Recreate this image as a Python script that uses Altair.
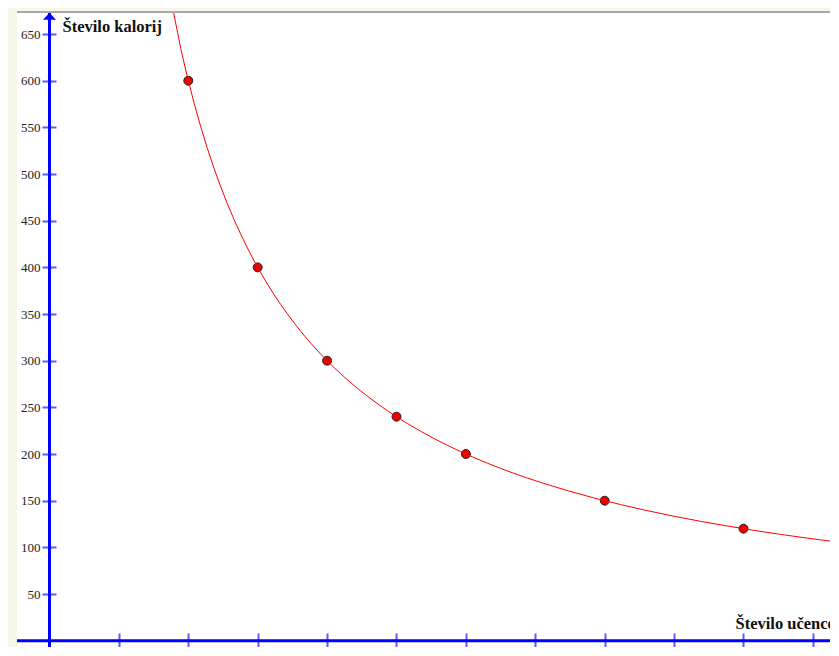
import altair as alt
import pandas as pd

# data
students = [4, 6, 8, 10, 12, 16, 20]
calories = [600, 400, 300, 240, 200, 150, 120]
x_ticks = [2, 4, 6, 8, 10, 12, 14, 16, 18, 20, 22]
y_ticks = [50, 100, 150, 200, 250, 300, 350, 400, 450, 500, 550, 600, 650]

df = pd.DataFrame({"x": students, "y": calories})

W, H = 813, 635
X_DOM = [-0.9366, 22.493]
Y_DOM = [-6.75, 673.6]

xs = alt.Scale(domain=X_DOM, nice=False, zero=False)
ys = alt.Scale(domain=Y_DOM, nice=False, zero=False)

FONT = "Liberation Serif"
AXIS_BLUE = "#0000ff"
TICK_BLUE = "#5a5aff"

x_axis = alt.Axis(
    values=x_ticks, orient="bottom", offset=-14, domain=False, grid=False,
    tickSize=14, tickWidth=2, tickColor=TICK_BLUE,
    labelFont=FONT, labelFontSize=13, labelColor="#222222", labelPadding=2,
    title="Število učencev", titleFont=FONT, titleFontSize=16.5, titleFontWeight="bold",
    titleColor="#111111", titleAngle=0, titleAlign="left", titleBaseline="alphabetic",
    titleX=718, titleY=-5,
)
y_axis = alt.Axis(
    values=y_ticks, orient="left", offset=-39, domain=False, grid=False,
    tickSize=14, tickWidth=2, tickColor=TICK_BLUE,
    labelFont=FONT, labelFontSize=13, labelColor="#222222", labelPadding=2,
    title="Število kalorij", titleFont=FONT, titleFontSize=16.5, titleFontWeight="bold",
    titleColor="#111111", titleAngle=0, titleAlign="left", titleBaseline="alphabetic",
    titleX=6, titleY=19,
)


def X(field):
    return alt.X(field, type="quantitative", scale=xs, axis=x_axis)


def Y(field):
    return alt.Y(field, type="quantitative", scale=ys, axis=y_axis)


base = alt.Chart(df)

points = base.mark_point(
    filled=True, fill="#ee0000", stroke="#222222", strokeWidth=1, size=80, opacity=1
).encode(x=X("x"), y=Y("y"))

# axis lines through the origin
y_line = alt.Chart(pd.DataFrame({"v": [0]})).mark_rule(color=AXIS_BLUE, strokeWidth=3).encode(
    x=X("v")
)
x_line = alt.Chart(pd.DataFrame({"v": [0]})).mark_rule(color=AXIS_BLUE, strokeWidth=3).encode(
    y=Y("v")
)

# arrow head on the y axis
arrow = alt.Chart(pd.DataFrame({"ax": [0], "ay": [669.1]})).mark_point(
    shape="M-1,0.54L0,-0.54L1,0.54Z", filled=True, fill=AXIS_BLUE, opacity=1,
    size=169, strokeWidth=0
).encode(x=X("ax"), y=Y("ay"))

# fitted curve y = a * x^b via the library's regression
curve = base.transform_regression(
    "x", "y", method="pow", extent=[3.4, 22.6]
).mark_line(color="#ff0000", strokeWidth=1, clip=True).encode(x=X("x"), y=Y("y"))

top_edge = alt.Chart(pd.DataFrame({"v": [0]})).mark_rule(color="#a8a8a8", strokeWidth=2).encode(
    y=alt.value(0), x=alt.value(0), x2=alt.value(W)
)

chart = alt.layer(points, y_line, x_line, curve, arrow, top_edge).properties(
    width=W, height=H,
    autosize=alt.AutoSizeParams(type="none"),
    padding={"left": 9, "top": 4, "right": 0, "bottom": 0},
    background="#f6f7e8",
).configure_view(fill="white", stroke=None)

chart.save("out.html", embed_options={"renderer": "svg", "actions": False})
